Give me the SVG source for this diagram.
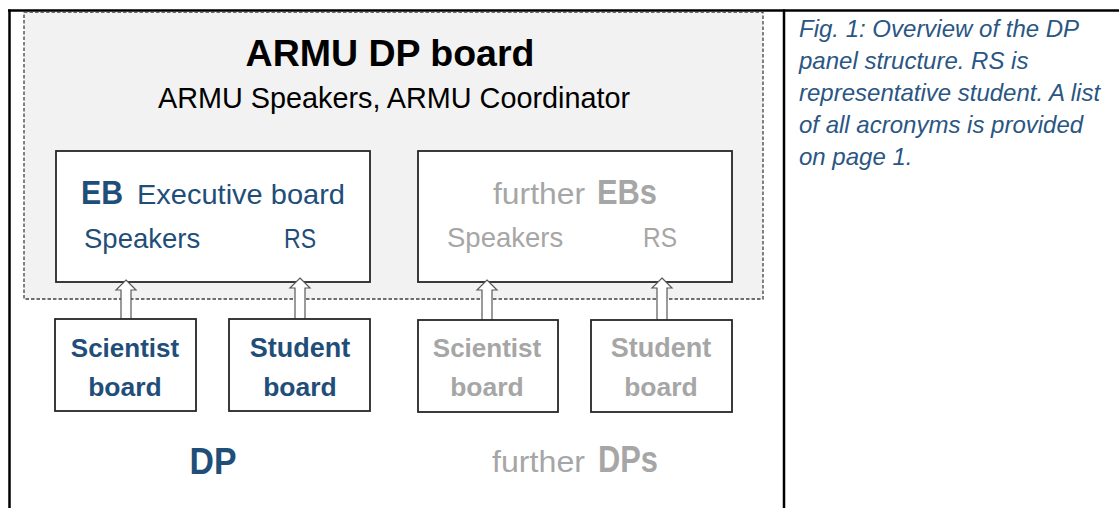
<svg xmlns="http://www.w3.org/2000/svg" width="1119" height="508" viewBox="0 0 1119 508">
<style>
.frame{stroke:#000;stroke-width:2.5;fill:none}
.panel{fill:#f2f2f2;stroke:#404040;stroke-width:1.3;stroke-dasharray:3.5 2}
.box{fill:#fff;stroke:#262626;stroke-width:1.8}
.arrow{fill:#fff;stroke:#595959;stroke-width:1.2;stroke-linejoin:miter}
text{font-family:"Liberation Sans",Arial,sans-serif}
.navy{fill:#1f4e79}
.gray{fill:#a6a6a6}
.b{font-weight:bold}
.cap{font-style:italic;font-size:24px;fill:#2a5683}
</style>
<rect width="1119" height="508" fill="#fff"/>
<g id="frame">
<line class="frame" x1="8" y1="10.5" x2="1119" y2="10.5"/>
<line class="frame" x1="9.5" y1="9.5" x2="9.5" y2="508"/>
<line class="frame" x1="784" y1="9.5" x2="784" y2="508"/>
</g>
<g id="armu-dp-board">
<rect class="panel" x="24" y="12" width="739" height="287"/>
<text x="390" y="66" text-anchor="middle" font-size="37.5" font-weight="bold" fill="#000">ARMU DP board</text>
<text x="394" y="108" text-anchor="middle" font-size="28.8" fill="#000">ARMU Speakers, ARMU Coordinator</text>
</g>
<g id="eb">
<rect class="box" x="56" y="151" width="314" height="131"/>
<text x="81" y="204" class="navy b" font-size="34" textLength="42" lengthAdjust="spacingAndGlyphs">EB</text>
<text x="137" y="204" class="navy" font-size="28.5" textLength="208" lengthAdjust="spacingAndGlyphs">Executive board</text>
<text x="84" y="248" class="navy" font-size="27.5">Speakers</text>
<text x="284" y="248" class="navy" font-size="27.5" textLength="32" lengthAdjust="spacingAndGlyphs">RS</text>
</g>
<g id="further-ebs">
<rect class="box" x="418" y="151" width="314" height="131"/>
<text x="493" y="204" class="gray" font-size="29" textLength="92" lengthAdjust="spacingAndGlyphs">further</text>
<text x="597" y="204" class="gray b" font-size="35" textLength="60" lengthAdjust="spacingAndGlyphs">EBs</text>
<text x="447" y="247" class="gray" font-size="27.5">Speakers</text>
<text x="643" y="247" class="gray" font-size="27.5" textLength="34" lengthAdjust="spacingAndGlyphs">RS</text>
</g>
<g id="connectors">
<path class="arrow" d="M126 280 L136 290 L131 290 L131 320 L121 320 L121 290 L116 290 Z"/>
<path class="arrow" d="M300 278 L310 288 L305 288 L305 320 L295 320 L295 288 L290 288 Z"/>
<path class="arrow" d="M487 280 L497 290 L492 290 L492 321 L482 321 L482 290 L477 290 Z"/>
<path class="arrow" d="M662 278 L672 288 L667 288 L667 321 L657 321 L657 288 L652 288 Z"/>
</g>
<g id="scientist-board">
<rect class="box" x="55" y="319" width="141" height="92"/>
<text x="125" y="357" text-anchor="middle" class="navy b" font-size="26">Scientist</text>
<text x="125" y="396" text-anchor="middle" class="navy b" font-size="26.5">board</text>
</g>
<g id="student-board">
<rect class="box" x="229" y="319" width="141" height="92"/>
<text x="300" y="357" text-anchor="middle" class="navy b" font-size="27">Student</text>
<text x="300" y="396" text-anchor="middle" class="navy b" font-size="26.5">board</text>
</g>
<g id="further-scientist-board">
<rect class="box" x="418" y="320" width="140" height="92"/>
<text x="487" y="357" text-anchor="middle" class="gray b" font-size="26">Scientist</text>
<text x="487" y="396" text-anchor="middle" class="gray b" font-size="26.5">board</text>
</g>
<g id="further-student-board">
<rect class="box" x="591" y="320" width="141" height="92"/>
<text x="661" y="357" text-anchor="middle" class="gray b" font-size="27">Student</text>
<text x="661" y="396" text-anchor="middle" class="gray b" font-size="26.5">board</text>
</g>
<g id="dp">
<text x="213" y="474" text-anchor="middle" class="navy b" font-size="36" textLength="47" lengthAdjust="spacingAndGlyphs">DP</text>
</g>
<g id="further-dps">
<text x="492" y="472" class="gray" font-size="29" textLength="93" lengthAdjust="spacingAndGlyphs">further</text>
<text x="598" y="472" class="gray b" font-size="36" textLength="60" lengthAdjust="spacingAndGlyphs">DPs</text>
</g>
<g id="caption">
<text class="cap" x="799" y="37">Fig. 1: Overview of the DP</text>
<text class="cap" x="799" y="69">panel structure. RS is</text>
<text class="cap" x="799" y="101">representative student. A list</text>
<text class="cap" x="799" y="133">of all acronyms is provided</text>
<text class="cap" x="799" y="165">on page 1.</text>
</g>
</svg>
